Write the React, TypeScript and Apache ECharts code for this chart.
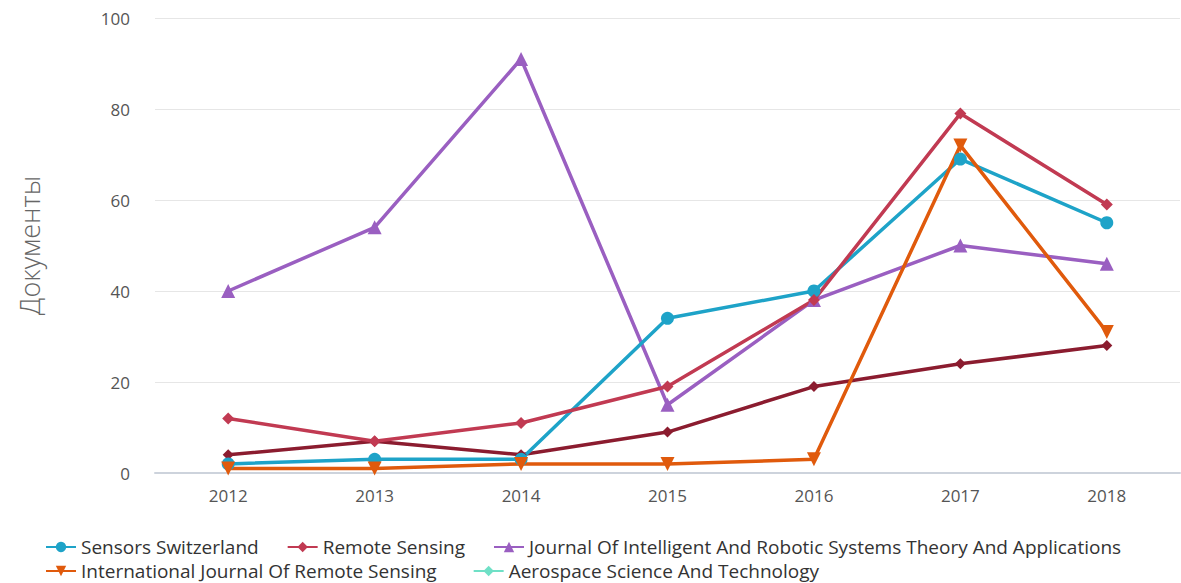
import React, { useEffect, useRef } from "react";
import * as echarts from "echarts";

const years = ["2012", "2013", "2014", "2015", "2016", "2017", "2018"];
const sensorsSwitzerland = [2, 3, 3, 34, 40, 69, 55];
const remoteSensing = [12, 7, 11, 19, 38, 79, 59];
const journalIntelligent = [40, 54, 91, 15, 38, 50, 46];
const intlJournalRemote = [1, 1, 2, 2, 3, 72, 31];
const aerospace: number[] = [];
const otherSource = [4, 7, 4, 9, 19, 24, 28];

const yTicks = { min: 0, max: 100, interval: 20 };

const names = {
  sensors: "Sensors Switzerland",
  remote: "Remote Sensing",
  journal: "Journal Of Intelligent And Robotic Systems Theory And Applications",
  intl: "International Journal Of Remote Sensing",
  aero: "Aerospace Science And Technology",
  other: "Other",
};

const FONT = "'Open Sans', 'Noto Sans', sans-serif";

export default function App() {
  const ref = useRef<HTMLDivElement>(null);
  useEffect(() => {
    if (!ref.current) return;
    const chart = echarts.init(ref.current, undefined, { renderer: "svg" });
    const line = (name: string, data: number[], color: string, symbol: string, size: number, extra: any = {}) => ({
      name,
      type: "line",
      data,
      symbol,
      symbolSize: size,
      showSymbol: true,
      lineStyle: { color, width: 3.5 },
      itemStyle: { color },
      emphasis: { disabled: true },
      ...extra,
    });
    const legendText = { fontFamily: FONT, fontSize: 19, lineHeight: 20, color: "#333333" };
    chart.setOption({
      animation: false,
      backgroundColor: "#ffffff",
      textStyle: { fontFamily: FONT },
      grid: { left: 155, right: 1, top: 18, bottom: 110, containLabel: false },
      legend: [
        {
          left: 45,
          top: 537,
          padding: 0,
          itemWidth: 30,
          itemHeight: 13,
          itemGap: 28,
          data: [names.sensors, names.remote, names.journal],
          textStyle: legendText,
          selectedMode: false,
        },
        {
          left: 45,
          top: 561,
          padding: 0,
          itemWidth: 30,
          itemHeight: 13,
          itemGap: 36,
          data: [names.intl, names.aero],
          textStyle: legendText,
          selectedMode: false,
        },
      ],
      xAxis: {
        type: "category",
        data: years,
        boundaryGap: true,
        axisLine: { show: true, lineStyle: { color: "#cdd3dc", width: 2 } },
        axisTick: { show: false },
        axisLabel: { color: "#555555", fontSize: 17, margin: 14, fontFamily: FONT },
        splitLine: { show: false },
      },
      yAxis: {
        type: "value",
        min: yTicks.min,
        max: yTicks.max,
        interval: yTicks.interval,
        name: "Документы",
        nameLocation: "middle",
        nameGap: 112,
        nameTextStyle: { color: "#666666", fontSize: 27, fontFamily: FONT, fontWeight: 300 },
        axisLine: { show: false },
        axisTick: { show: false },
        axisLabel: { color: "#555555", fontSize: 17, margin: 25, fontFamily: FONT },
        splitLine: { lineStyle: { color: "#e6e6e6", width: 1 } },
      },
      series: [
        line(names.other, otherSource, "#8b1c2f", "diamond", 11),
        line(names.journal, journalIntelligent, "#9a5fc1", "triangle", 14),
        line(names.sensors, sensorsSwitzerland, "#1ea3c8", "circle", 13),
        line(names.remote, remoteSensing, "#c13a52", "diamond", 12),
        line(names.intl, intlJournalRemote, "#e05a0c", "triangle", 14, { symbolRotate: 180 }),
        line(names.aero, aerospace, "#6fe0c6", "diamond", 11),
      ],
    });
    return () => chart.dispose();
  }, []);
  return <div ref={ref} style={{ width: 1181, height: 583, position: "absolute", left: 0, top: 0 }} />;
}
